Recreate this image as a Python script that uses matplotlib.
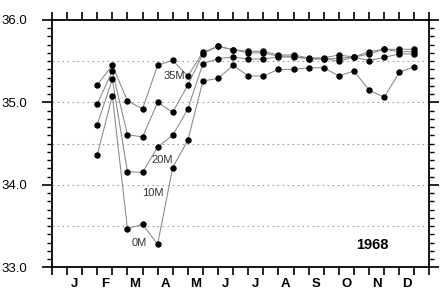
import numpy as np
import matplotlib
matplotlib.use('Agg')
import matplotlib.pyplot as plt

plt.rcParams['font.family'] = ['Liberation Sans', 'DejaVu Sans']

# half-month tick positions of the samples (axis runs 0..25)
x_pos = list(range(3, 25))

s_35m = [35.21, 35.45, 35.02, 34.92, 35.45, 35.51, 35.32, 35.61, 35.68, 35.64, 35.62,
         35.62, 35.575, 35.575, 35.54, 35.54, 35.575, 35.55, 35.615, 35.644, 35.644, 35.644]
s_20m = [34.98, 35.38, 34.61, 34.58, 35.00, 34.88, 35.21, 35.59, 35.68, 35.64, 35.60,
         35.60, 35.56, 35.56, 35.526, 35.526, 35.535, 35.55, 35.587, 35.644, 35.615, 35.615]
s_10m = [34.73, 35.28, 34.16, 34.15, 34.46, 34.60, 34.92, 35.47, 35.53, 35.55, 35.526,
         35.526, 35.55, 35.55, 35.53, 35.53, 35.50, 35.55, 35.506, 35.547, 35.587, 35.587]
s_0m = [34.36, 35.08, 33.47, 33.52, 33.28, 34.21, 34.54, 35.26, 35.29, 35.45, 35.32,
        35.32, 35.40, 35.40, 35.42, 35.42, 35.32, 35.38, 35.15, 35.06, 35.365, 35.433]

months = ['J', 'F', 'M', 'A', 'M', 'J', 'J', 'A', 'S', 'O', 'N', 'D']
month_pos = [1.5 + 2 * i for i in range(12)]

fig = plt.figure(figsize=(4.4, 3.02), dpi=100)
ax = fig.add_axes([0.118, 0.115, 0.858, 0.819])

for s in [s_35m, s_20m, s_10m, s_0m]:
    ax.plot(x_pos, s, color='#888888', lw=0.75, marker='o', ms=3.6,
            mfc='black', mec='black', zorder=3)

for yv in [33.5, 34.0, 34.5, 35.0, 35.5]:
    ax.axhline(yv, color='#a0a0a0', lw=0.8, ls=(0, (1.5, 3)), zorder=1)

ax.set_xlim(0, 25)
ax.set_ylim(33.0, 36.0)

ax.set_xticks(range(26))
ax.set_xticklabels([])
ax.set_xticks(month_pos, minor=True)
ax.set_xticklabels(months, minor=True, fontsize=9.5, fontweight='bold')
ax.tick_params(axis='x', which='major', direction='out', length=6, width=1.2,
               top=True, bottom=True)
ax.tick_params(axis='x', which='minor', length=0, pad=8, top=False)

ax.set_yticks([33.0, 34.0, 35.0, 36.0])
ax.set_yticklabels(['33.0', '34.0', '35.0', '36.0'], fontsize=9.5)
ax.set_yticks(np.arange(33.0, 36.01, 0.1), minor=True)
ax.tick_params(axis='y', which='major', direction='out', length=7, width=1.2,
               left=True, right=True, pad=11)
ax.tick_params(axis='y', which='minor', direction='out', length=3.5, width=1.0,
               left=True, right=True)

for sp in ax.spines.values():
    sp.set_linewidth(1.3)

ax.text(8.1, 35.32, '35M', fontsize=8, color='#333333', ha='center', va='center')
ax.text(7.3, 34.3, '20M', fontsize=8, color='#333333', ha='center', va='center')
ax.text(6.7, 33.9, '10M', fontsize=8, color='#333333', ha='center', va='center')
ax.text(5.8, 33.3, '0M', fontsize=8, color='#333333', ha='center', va='center')
ax.text(21.2, 33.27, '1968', fontsize=10.5, fontweight='bold', ha='center', va='center')

fig.savefig('out.png', dpi=100)
